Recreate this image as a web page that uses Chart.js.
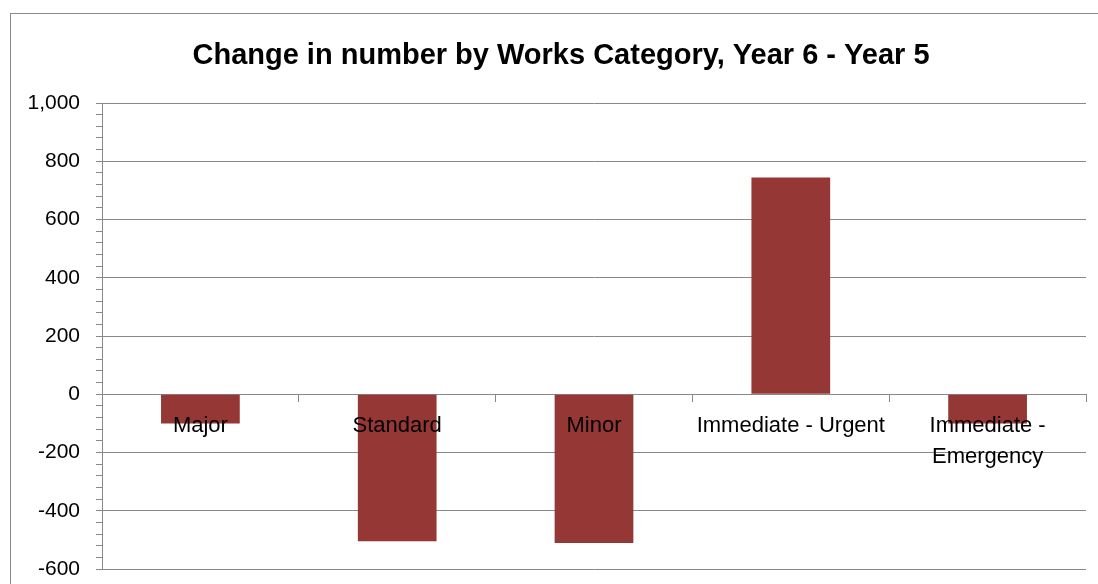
<!DOCTYPE html>
<html>
<head>
<meta charset="utf-8">
<script src="https://cdn.jsdelivr.net/npm/chart.js@4/dist/chart.umd.min.js"></script>
<style>
  html, body { margin: 0; padding: 0; background: #fff; }
  #wrap { width: 1098px; height: 584px; position: relative; }
</style>
</head>
<body>
<div id="wrap"><canvas id="myChart" width="1098" height="584"></canvas></div>
<script>
var titleText = 'Change in number by Works Category, Year 6 - Year 5';
var categories = ['Major', 'Standard', 'Minor', 'Immediate - Urgent', ['Immediate -', 'Emergency']];
var changes = [-100, -505, -511, 744, -100];
var yMin = -600;
var yMax = 1000;
var majorStep = 200;
var minorStep = 40;

var gridGrey = '#888888';

// outer frame and title drawn straight onto the canvas
var frameAndTitle = {
    id: 'frameAndTitle',
    beforeDraw: function(chart) {
        var ctx = chart.ctx;
        ctx.save();
        ctx.strokeStyle = '#8c8c8c';
        ctx.lineWidth = 1;
        ctx.strokeRect(10.5, 13.5, 1200, 700);
        ctx.fillStyle = '#000';
        ctx.font = 'bold 29px "Liberation Sans"';
        ctx.textAlign = 'center';
        ctx.textBaseline = 'middle';
        ctx.fillText(titleText, 561, 56);
        ctx.restore();
    }
};

var ctx = document.getElementById('myChart').getContext('2d');
var chart = new Chart(ctx, {
    type: 'bar',
    data: {
        labels: categories,
        datasets: [{
            data: changes,
            backgroundColor: '#953735',
            borderWidth: 0,
            barPercentage: 0.4,
            categoryPercentage: 1.0
        }]
    },
    options: {
        responsive: false,
        animation: false,
        layout: { padding: { top: 103, right: 12, bottom: 15, left: 0 } },
        plugins: {
            legend: { display: false },
            title: { display: false },
            tooltip: { enabled: false }
        },
        scales: {
            x: {
                position: { y: 0 },
                offset: true,
                border: { color: gridGrey, width: 1 },
                grid: {
                    offset: true,
                    drawOnChartArea: false,
                    tickLength: 7,
                    tickColor: gridGrey
                },
                ticks: {
                    z: 1, // category names sit on top of the bars
                    color: '#000',
                    padding: 9,
                    maxRotation: 0,
                    autoSkip: false,
                    font: { family: 'Liberation Sans', size: 22, lineHeight: 1.4 }
                },
                afterFit: function(scale) { scale.height = 0; }
            },
            y: {
                min: yMin,
                max: yMax,
                afterFit: function(scale) {
                    scale.width = 102;
                    scale.paddingTop = 0;
                    scale.paddingBottom = 0;
                },
                border: { color: gridGrey, width: 1 },
                grid: {
                    color: function(c) {
                        return c.tick && c.tick.value % majorStep === 0 ? gridGrey : 'rgba(0,0,0,0)';
                    },
                    tickColor: gridGrey,
                    tickLength: 6
                },
                ticks: {
                    stepSize: minorStep,
                    autoSkip: false,
                    color: '#000',
                    padding: 16,
                    font: { family: 'Liberation Sans', size: 21 },
                    callback: function(v) {
                        if (v % majorStep !== 0) return '';
                        return v.toLocaleString('en-US');
                    }
                }
            }
        }
    },
    plugins: [frameAndTitle]
});
</script>
</body>
</html>
